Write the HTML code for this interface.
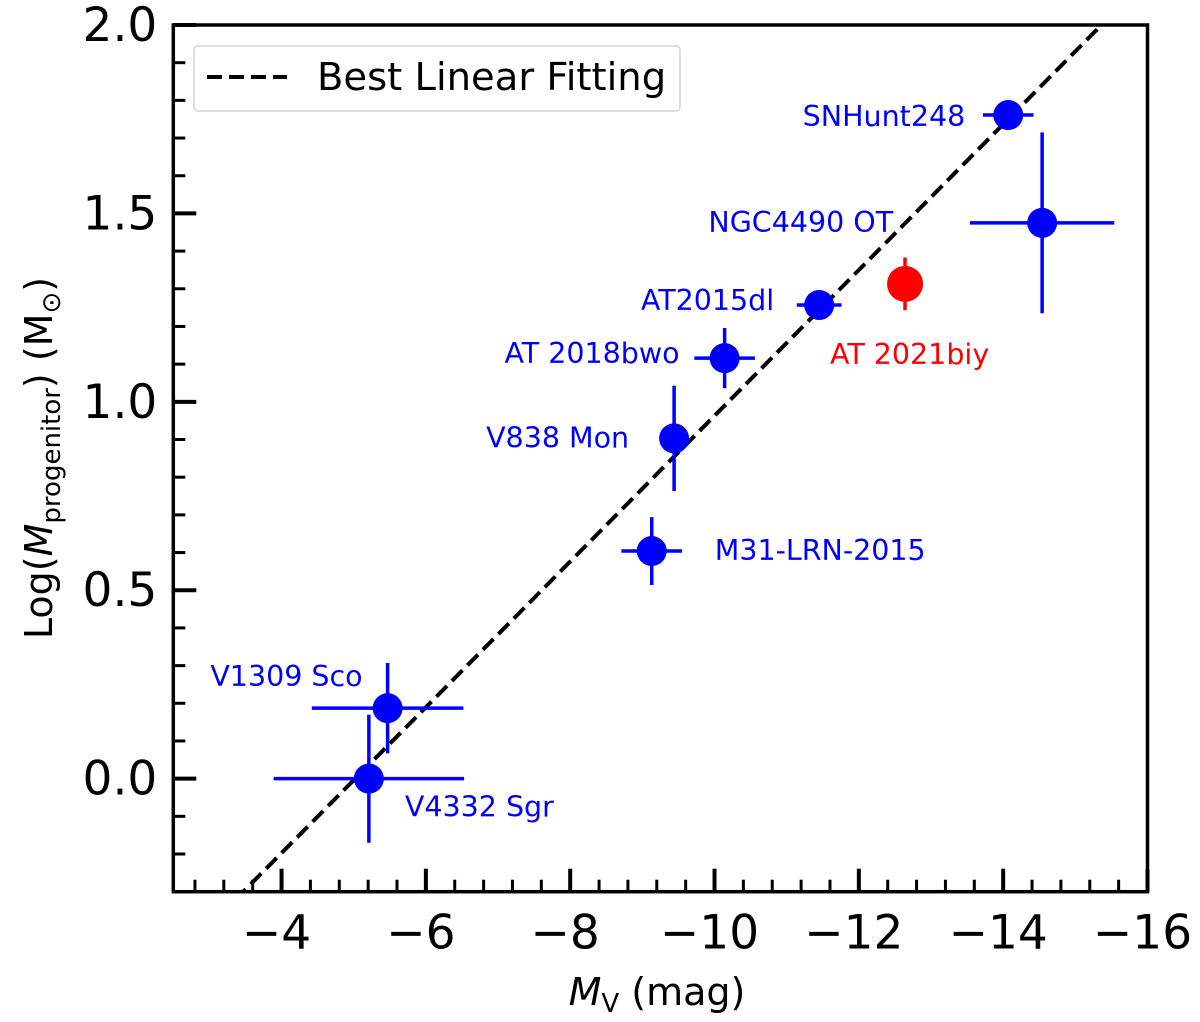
<!DOCTYPE html>
<html><head><meta charset="utf-8"><style>
body{margin:0;background:#fff;}
svg{display:block;font-family:"DejaVu Sans","Liberation Sans",sans-serif;}
</style></head><body>
<svg id="chart" width="1200" height="1022" viewBox="0 0 1200 1022" xmlns="http://www.w3.org/2000/svg">
<defs><clipPath id="plotclip"><rect x="173.3" y="25" width="974.2" height="866.7"/></clipPath></defs>
</svg>
<script>
const names = ["V4332 Sgr","V1309 Sco","M31-LRN-2015","V838 Mon","AT 2018bwo","AT2015dl","SNHunt248","NGC4490 OT","AT 2021biy"];
const mv = [-5.21,-5.47,-9.13,-9.44,-10.14,-11.45,-14.07,-14.54,-12.64];
const logm = [0.0,0.187,0.604,0.903,1.116,1.257,1.761,1.475,1.313];
const mvErr = [1.32,1.05,0.42,0.0,0.42,0.31,0.35,1.0,0.0];
const logmErr = [0.17,0.12,0.09,0.14,0.08,0.0,0.0,0.24,0.07];
const labelDx = [36,-25,63,-45,-45,-45,-43,-149,-75];
const labelDy = [38,-22,9,9,5,5,11,9,80];
const labelAnchor = ["start","end","start","end","end","end","end","end","start"];
const fitIntercept = -0.971, fitSlope = -0.1934;
const xTicks = [-4,-6,-8,-10,-12,-14,-16];
const yTicks = [0.0,0.5,1.0,1.5,2.0];

const L=173.3,R=1147.5,T=25,B=891.7;
const xMin=-2.5,xMax=-16,yMin=-0.3,yMax=2.0;
const X=v=>L+(v-xMin)/(xMax-xMin)*(R-L);
const Y=v=>B-(v-yMin)/(yMax-yMin)*(B-T);
const svg=document.getElementById('chart');
const NS='http://www.w3.org/2000/svg';
function mk(tag,attrs,parent){const e=document.createElementNS(NS,tag);for(const k in attrs)e.setAttribute(k,attrs[k]);(parent||svg).appendChild(e);return e;}

const fl=mk('line',{x1:X(-2.5),y1:Y(fitIntercept+fitSlope*-2.5),x2:X(-16),y2:Y(fitIntercept+fitSlope*-16),stroke:'#000','stroke-width':4,'stroke-dasharray':'15,7','clip-path':'url(#plotclip)'});



for(let i=0;i<names.length;i++){
  const col=i===8?'#ff0000':'#0000ff';
  const g=mk('g',{});
  
  
  const cx=X(mv[i]),cy=Y(logm[i]);
  if(mvErr[i]>0) mk('line',{x1:X(mv[i]-mvErr[i]),x2:X(mv[i]+mvErr[i]),y1:cy,y2:cy,stroke:col,'stroke-width':3.5},g);
  if(logmErr[i]>0) mk('line',{x1:cx,x2:cx,y1:Y(logm[i]-logmErr[i]),y2:Y(logm[i]+logmErr[i]),stroke:col,'stroke-width':3.5},g);
  mk('circle',{cx:cx,cy:cy,r:i===8?18:15,fill:col},g);
  const t=mk('text',{x:cx+labelDx[i],y:cy+labelDy[i],fill:col,'font-size':28.5,'text-anchor':labelAnchor[i]},g);
  t.textContent=names[i];
  
  
}
const fr=mk('rect',{x:L,y:T,width:R-L,height:B-T,fill:'none',stroke:'#000','stroke-width':3.5});


for(let v=-2.8;v>=-16.01;v-=0.4){
  const r=Math.round(v*10)/10;
  const major=Math.abs(r/2-Math.round(r/2))<1e-6;
  const len=major?23:12;
  mk('line',{x1:X(r),x2:X(r),y1:B,y2:B-len,stroke:'#000','stroke-width':major?4:3});
}
for(const v of xTicks){
  const t=mk('text',{x:X(v)-5,y:B+57,'font-size':47,'text-anchor':'middle'});
  t.textContent='\u2212'+Math.abs(v);
  
  
}
for(let k=-3;k<=20;k++){
  const v=k/10;const major=k%5===0;
  mk('line',{x1:L,x2:L+(major?23:12),y1:Y(v),y2:Y(v),stroke:'#000','stroke-width':major?4:3});
}
for(const v of yTicks){
  const t=mk('text',{x:L-16,y:Y(v)+16,'font-size':47,'text-anchor':'end'});
  t.textContent=v.toFixed(1);
  
  
}
</script>
<svg style="position:absolute;left:0;top:0" width="1200" height="1022">
<g>
<rect x="194" y="46" width="486" height="65" rx="4" fill="#fff" stroke="#ddd" stroke-width="2"/>
<line x1="207" y1="77" x2="287" y2="77" stroke="#000" stroke-width="4" stroke-dasharray="15,7"/>
<text x="317" y="90" font-size="38.5" font-family="DejaVu Sans, Liberation Sans, sans-serif">Best Linear Fitting</text>
</g>
<text x="657" y="1005" font-size="38" text-anchor="middle" font-family="DejaVu Sans, Liberation Sans, sans-serif"><tspan font-style="italic">M</tspan><tspan font-size="26" dy="7">V</tspan><tspan dy="-7"> (mag)</tspan></text>
<text transform="translate(52,458) rotate(-90)" font-size="38" text-anchor="middle" font-family="DejaVu Sans, Liberation Sans, sans-serif">Log(<tspan font-style="italic">M</tspan><tspan font-size="26" dy="8">progenitor</tspan><tspan dy="-8">) (M</tspan><tspan font-size="26" dy="8">⊙</tspan><tspan dy="-8">)</tspan></text>
</svg>
</body></html>
